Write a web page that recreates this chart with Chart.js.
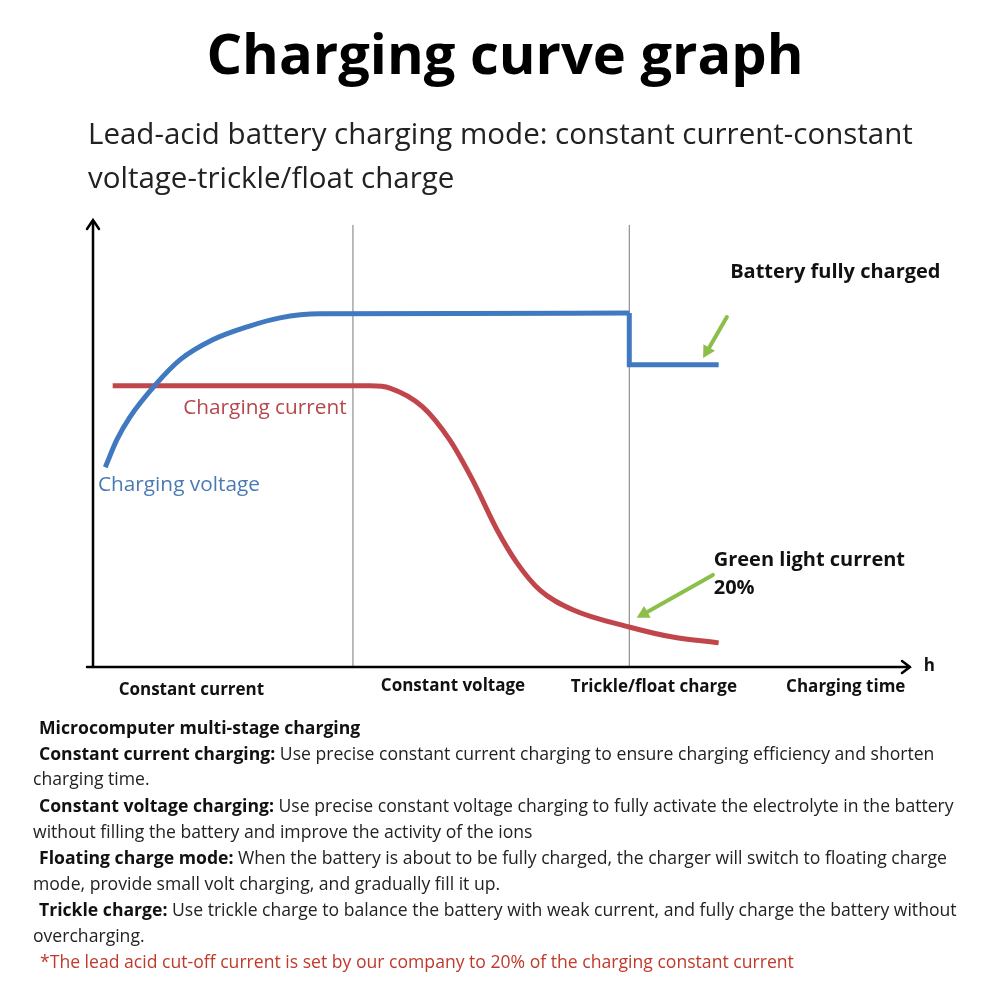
<!DOCTYPE html>
<html>
<head>
<meta charset="utf-8">
<script src="https://cdn.jsdelivr.net/npm/chart.js@4"></script>
<style>
  html, body { margin: 0; padding: 0; background: #fff; }
  #wrap { position: relative; width: 1006px; height: 1006px; overflow: hidden; font-family: "Open Sans", sans-serif; color: #111; }
  #chartBox { position: absolute; left: 0; top: 0; width: 1006px; height: 1006px; }
  .t { position: absolute; white-space: nowrap; }
  #title { left: 0; width: 1010px; text-align: center; top: 14px; font-size: 56px; font-weight: 700; color: #000; }
  .sub { left: 88px; font-size: 29.5px; color: #222; }
  .p { font-size: 17.6px; line-height: 20px; color: #222; }
  .p b { color: #111; }
  .note { color: #c0392b; }
</style>
</head>
<body>
<div id="wrap">
  <div id="chartBox"><canvas id="myChart"></canvas></div>
  <div class="t" id="title">Charging curve graph</div>
  <div class="t sub" style="top:112px">Lead-acid battery charging mode: constant current-constant</div>
  <div class="t sub" style="top:156px">voltage-trickle/float charge</div>

  <div class="t p" style="left:39px;top:717px"><b>Microcomputer multi-stage charging</b></div>
  <div class="t p" style="left:39px;top:743px"><b>Constant current charging:</b> Use precise constant current charging to ensure charging efficiency and shorten</div>
  <div class="t p" style="left:33px;top:768px">charging time.</div>
  <div class="t p" style="left:39px;top:795px"><b>Constant voltage charging:</b> Use precise constant voltage charging to fully activate the electrolyte in the battery</div>
  <div class="t p" style="left:33px;top:821px">without filling the battery and improve the activity of the ions</div>
  <div class="t p" style="left:39px;top:847px"><b>Floating charge mode:</b> When the battery is about to be fully charged, the charger will switch to floating charge</div>
  <div class="t p" style="left:33px;top:873px">mode, provide small volt charging, and gradually fill it up.</div>
  <div class="t p" style="left:39px;top:899px"><b>Trickle charge:</b> Use trickle charge to balance the battery with weak current, and fully charge the battery without</div>
  <div class="t p" style="left:33px;top:925px">overcharging.</div>
  <div class="t p note" style="left:40px;top:951px">*The lead acid cut-off current is set by our company to 20% of the charging constant current</div>
</div>
<script>
// charging voltage (rising part, then flat)
const voltX = [1.5, 2.9, 4.5, 7.6, 10.6, 14.6, 18.8, 22.8, 27.7, 45, 65.4];
const voltY = [44.7, 50.8, 55.9, 63.1, 68.7, 73.2, 76.1, 78.1, 79.0, 79.1, 79.2];
// voltage step down once battery is full
const stepX = [65.4, 65.4, 76.3];
const stepY = [79.2, 67.6, 67.6];
// charging current
const currX = [2.4, 20, 30.1, 33.8, 36.2, 40.2, 43.5, 46.3, 49.3, 51.7, 54.5, 58.5, 65.5, 70.7, 76.3];
const currY = [62.9, 62.9, 62.9, 62.9, 62.4, 58.2, 50.8, 41.8, 30.6, 23.3, 17.2, 12.8, 8.9, 6.7, 5.4];
// stage dividers
const dividerX = [31.7, 65.4];
const dividerTop = 98.9;
// stage names under the time axis
const stageLabels = ['Constant current', 'Constant voltage', 'Trickle/float charge', 'Charging time'];
const stageX = [12.0, 43.9, 68.4, 91.8];
// green pointer arrows [tailX, tailY, tipX, tipY]
const arrows = [
  [77.3, 78.3, 74.4, 69.1],
  [75.6, 20.6, 66.3, 11.0],
];

const BLUE = '#4079c0';
const RED = '#c0464b';

const pts = (xs, ys) => xs.map((x, i) => ({ x, y: ys[i] }));

const datasets = [];
datasets.push({
  data: pts(voltX, voltY),
  borderColor: BLUE,
  borderWidth: 5,
  cubicInterpolationMode: 'monotone',
});
datasets.push({
  data: pts(stepX, stepY),
  borderColor: BLUE,
  borderWidth: 5,
  tension: 0,
  borderJoinStyle: 'miter',
});
datasets.push({
  data: pts(currX, currY),
  borderColor: RED,
  borderWidth: 5,
  cubicInterpolationMode: 'monotone',
});
dividerX.forEach(x => {
  datasets.push({
    data: [{ x, y: 0 }, { x, y: dividerTop }],
    borderColor: '#7a7a7a',
    borderWidth: 1,
    order: 5,
  });
});

const decor = {
  id: 'decor',
  afterDatasetsDraw(chart) {
    const { ctx, chartArea: a, scales: { x, y } } = chart;
    ctx.save();
    // axes with arrow heads
    ctx.strokeStyle = '#000';
    ctx.lineWidth = 2.5;
    ctx.lineCap = 'round';
    ctx.beginPath();
    ctx.moveTo(a.left, a.bottom);
    ctx.lineTo(a.left, a.top);
    ctx.moveTo(a.left - 6, a.top + 9);
    ctx.lineTo(a.left, a.top);
    ctx.lineTo(a.left + 6, a.top + 9);
    ctx.moveTo(a.left - 6, a.bottom);
    ctx.lineTo(a.right - 3, a.bottom);
    ctx.moveTo(a.right - 11, a.bottom - 6);
    ctx.lineTo(a.right - 3, a.bottom);
    ctx.lineTo(a.right - 11, a.bottom + 6);
    ctx.stroke();

    // green arrows
    ctx.strokeStyle = '#8cbf4a';
    ctx.fillStyle = '#8cbf4a';
    ctx.lineWidth = 4;
    arrows.forEach(([x0, y0, x1, y1]) => {
      const px0 = x.getPixelForValue(x0), py0 = y.getPixelForValue(y0);
      const px1 = x.getPixelForValue(x1), py1 = y.getPixelForValue(y1);
      const ang = Math.atan2(py1 - py0, px1 - px0);
      ctx.beginPath();
      ctx.moveTo(px0, py0);
      ctx.lineTo(px1 - 6 * Math.cos(ang), py1 - 6 * Math.sin(ang));
      ctx.stroke();
      ctx.beginPath();
      ctx.moveTo(px1, py1);
      ctx.lineTo(px1 - 14 * Math.cos(ang - 0.5), py1 - 14 * Math.sin(ang - 0.5));
      ctx.lineTo(px1 - 14 * Math.cos(ang + 0.5), py1 - 14 * Math.sin(ang + 0.5));
      ctx.closePath();
      ctx.fill();
    });

    // stage names
    ctx.fillStyle = '#111';
    ctx.font = 'bold 17px "Open Sans"';
    ctx.textAlign = 'center';
    ctx.textBaseline = 'middle';
    const dy = [23, 19, 20, 20];
    stageLabels.forEach((s, i) => {
      ctx.fillText(s, x.getPixelForValue(stageX[i]), a.bottom + dy[i]);
    });

    // in-plot notes
    ctx.textAlign = 'left';
    const note = (txt, vx, vy, font, color) => {
      ctx.font = font;
      ctx.fillStyle = color;
      ctx.fillText(txt, x.getPixelForValue(vx), y.getPixelForValue(vy));
    };
    note('Charging current', 11.0, 57.9, '20.8px "Open Sans"', '#b5474b');
    note('Charging voltage', 0.6, 40.7, '20.8px "Open Sans"', '#4a7ab3');
    note('Battery fully charged', 77.7, 88.4, 'bold 20px "Open Sans"', '#111');
    note('Green light current', 75.7, 23.9, 'bold 20px "Open Sans"', '#111');
    note('20%', 75.7, 17.7, 'bold 20px "Open Sans"', '#111');
    note('h', 101.3, 0.3, 'bold 17px "Open Sans"', '#111');
    ctx.restore();
  },
};

const config = {
  type: 'line',
  data: { datasets },
  options: {
    responsive: true,
    maintainAspectRatio: false,
    animation: false,
    clip: false,
    layout: { padding: { left: 93, right: 93, top: 220, bottom: 339 } },
    elements: { point: { radius: 0 } },
    plugins: { legend: { display: false }, tooltip: { enabled: false } },
    scales: {
      x: { type: 'linear', min: 0, max: 100, display: false },
      y: { min: 0, max: 100, display: false },
    },
  },
  plugins: [decor],
};

const ctx = document.getElementById('myChart').getContext('2d');
const myChart = new Chart(ctx, config);
</script>
</body>
</html>
